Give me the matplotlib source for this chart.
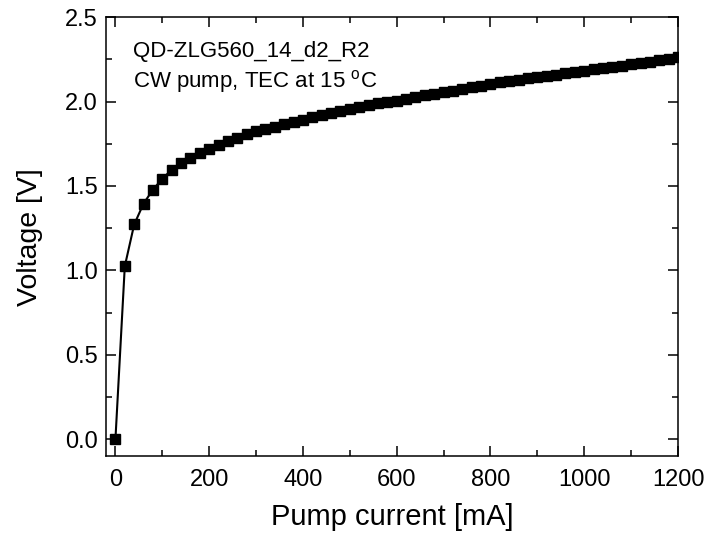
import numpy as np
import matplotlib
matplotlib.use('Agg')
import matplotlib.pyplot as plt
from matplotlib.ticker import MultipleLocator, FormatStrFormatter

plt.rcParams['font.family'] = ['Liberation Sans', 'DejaVu Sans']
plt.rcParams['mathtext.fontset'] = 'custom'
plt.rcParams['mathtext.rm'] = 'Liberation Sans'

# pump current [mA], every 20 mA
current = np.arange(0, 1201, 20)

# measured voltage [V]
voltage = [
    0.000, 1.025, 1.272, 1.396, 1.478, 1.543, 1.596, 1.634, 1.666, 1.695,
    1.720, 1.744, 1.765, 1.786, 1.805, 1.823, 1.837, 1.851, 1.866, 1.878,
    1.892, 1.906, 1.918, 1.932, 1.944, 1.956, 1.967, 1.979, 1.989, 1.998,
    2.006, 2.017, 2.027, 2.037, 2.047, 2.056, 2.065, 2.074, 2.084, 2.095,
    2.105, 2.114, 2.122, 2.129, 2.137, 2.144, 2.151, 2.160, 2.167, 2.176,
    2.183, 2.191, 2.199, 2.206, 2.213, 2.221, 2.229, 2.237, 2.245, 2.253,
    2.263,
]

device_label = 'QD-ZLG560_14_d2_R2'
condition_label = r'CW pump, TEC at 15 $^{\mathrm{o}}$C'

fig = plt.figure(figsize=(7.07, 5.36), dpi=100)
ax = fig.add_axes([0.150, 0.149, 0.809, 0.819])

ax.plot(current, voltage, color='black', lw=1.5, marker='s', ms=7.5,
        mfc='black', mec='black')

ax.set_xlim(-20, 1200)
ax.set_ylim(-0.1, 2.5)
ax.xaxis.set_major_locator(MultipleLocator(200))
ax.xaxis.set_minor_locator(MultipleLocator(100))
ax.yaxis.set_major_locator(MultipleLocator(0.5))
ax.yaxis.set_minor_locator(MultipleLocator(0.25))
ax.yaxis.set_major_formatter(FormatStrFormatter('%.1f'))

ax.tick_params(which='both', direction='in', top=True, right=True,
               width=1.1, labelsize=17)
ax.tick_params(axis='x', pad=9)
ax.tick_params(axis='y', pad=6)
ax.tick_params(which='major', length=7)
ax.tick_params(which='minor', length=4)
for s in ax.spines.values():
    s.set_linewidth(1.1)

ax.set_xlabel('Pump current [mA]', fontsize=21, labelpad=9)
ax.set_ylabel('Voltage [V]', fontsize=20.5, labelpad=16)

ax.text(0.047, 0.909, device_label, transform=ax.transAxes, fontsize=16,
        va='baseline')
ax.text(0.047, 0.841, condition_label, transform=ax.transAxes, fontsize=16,
        va='baseline')

fig.savefig('out.png', dpi=100)
